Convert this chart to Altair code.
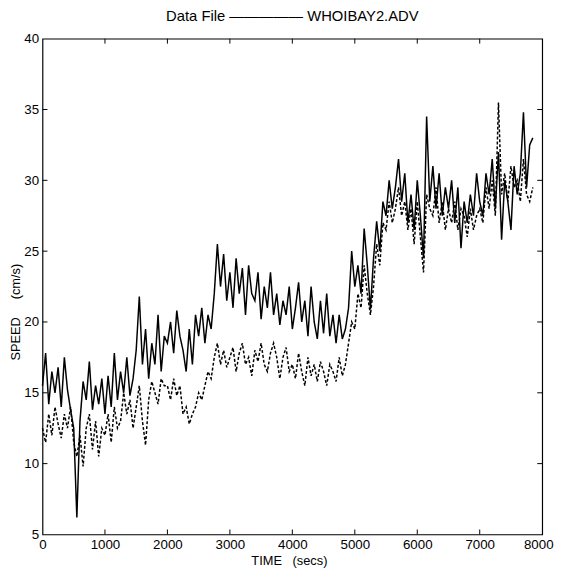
import altair as alt
import pandas as pd

# sample times (s), 50 s spacing, 0 .. 7850
times = list(range(0, 7900, 50))

# upper (solid) series, cm/s
solid = [
    15.5, 17.8, 14.2, 16.5, 15.0, 16.8, 14.0, 17.5, 15.2, 13.8, 12.5, 6.2, 13.0, 15.8, 14.5, 17.2, 13.8, 15.5, 14.2, 16.0,
    13.5, 16.2, 14.0, 17.8, 14.5, 16.5, 15.0, 17.5, 14.8, 16.0, 18.0, 21.8, 17.0, 19.5, 16.0, 18.5, 17.0, 20.5, 16.5, 19.0,
    18.5, 20.0, 17.8, 20.8, 19.0, 18.0, 16.5, 19.5, 17.0, 20.5, 19.0, 21.0, 18.5, 20.5, 19.5, 22.0, 25.5, 22.5, 24.8, 21.5,
    23.5, 21.0, 24.5, 22.0, 23.8, 20.5, 24.0, 22.0, 21.5, 23.5, 20.2, 22.5, 21.0, 23.5, 20.5, 22.0, 19.8, 21.5, 20.5, 22.5,
    19.5, 21.0, 22.8, 20.0, 21.5, 19.0, 22.5, 20.0, 18.8, 21.5, 19.2, 22.0, 19.0, 20.5, 18.5, 20.5, 18.8, 19.5, 21.0, 25.0,
    22.5, 24.0, 22.0, 26.6, 24.0, 20.9, 24.5, 27.1, 25.0, 28.5, 27.5, 30.0, 28.0, 29.5, 31.5, 28.5, 30.5, 27.0, 29.0, 26.5,
    30.0, 27.5, 24.5, 34.5, 28.5, 31.0, 28.0, 30.5, 27.5, 29.5, 28.0, 30.0, 27.0, 29.5, 25.2, 28.5, 27.0, 29.0, 27.5, 30.5,
    28.5, 27.5, 30.5, 29.0, 31.5, 28.0, 32.0, 25.8, 30.0, 28.5, 26.5, 31.0, 29.0, 30.5, 34.8, 29.5, 32.5, 33.0,
]

# lower (dashed) series, cm/s
dashed = [
    12.5, 11.5, 13.5, 12.0, 14.0, 12.8, 11.8, 13.5, 12.5, 14.0, 11.5, 10.5, 12.0, 9.8, 12.5, 13.5, 11.0, 13.0, 10.5, 12.5,
    12.0, 13.5, 11.5, 14.0, 12.5, 13.0, 15.0, 13.5, 14.5, 12.5, 14.0, 15.5, 13.0, 11.3, 14.5, 15.8, 15.0, 14.2, 16.0, 15.5,
    15.5, 14.5, 16.0, 14.8, 15.5, 13.5, 14.0, 12.8, 13.5, 14.0, 15.0, 14.5, 15.5, 16.5, 16.0, 17.5, 18.5, 17.0, 18.0, 16.8,
    17.5, 18.2, 16.5, 17.8, 18.5, 17.0, 17.5, 16.2, 18.0, 17.2, 18.5, 17.0, 16.5, 17.8, 18.5, 17.5, 16.0, 17.5, 18.2, 16.5,
    17.0, 16.0, 17.8, 16.5, 15.5, 17.5, 16.2, 17.0, 15.8, 17.2, 16.5, 15.5, 17.0, 16.5, 15.8, 17.5, 16.2, 17.0, 18.5, 20.0,
    19.5, 22.0, 21.0, 24.0, 22.0, 20.5, 22.5, 25.5, 24.0, 27.0, 26.5, 28.5, 27.0, 28.0, 29.5, 27.5, 28.5, 26.5, 28.0, 25.5,
    28.5, 26.0, 23.5, 29.0, 28.0, 27.5, 29.5, 27.0, 28.5, 26.5, 28.0, 27.0, 28.5, 26.5, 28.0, 27.5, 26.0, 28.0, 26.5, 27.5,
    28.0, 27.0, 29.5, 28.0, 30.0, 27.5, 35.5, 29.0, 30.5, 28.5, 31.0, 29.5, 30.0, 28.5, 31.5, 29.0, 28.5, 29.5,
]

x_ticks = [0, 1000, 2000, 3000, 4000, 5000, 6000, 7000, 8000]
y_ticks = [5, 10, 15, 20, 25, 30, 35, 40]

W, H = 507, 503
FONT = "Liberation Sans"

df = pd.DataFrame({"t": times, "solid": solid, "dashed": dashed})
xt = pd.DataFrame({"v": x_ticks[1:-1]})
yt = pd.DataFrame({"v": y_ticks[1:-1]})

xs = alt.Scale(domain=[0, 8000], nice=False, zero=False)
ys = alt.Scale(domain=[5, 40], nice=False, zero=False)

x_axis = alt.Axis(values=x_ticks, format="d", title="TIME\u00a0\u00a0\u00a0(secs)", ticks=False, domain=False,
                  grid=False, labelPadding=3, titleX=250, titleY=30, titleBaseline="alphabetic",
                  labelFontSize=13.5, titleFontSize=13, labelColor="black", titleColor="black",
                  titleFontWeight="normal", labelFlush=False,
                  labelOffset={"condition": {"test": "datum.value == 8000", "value": -4}, "value": 0})
y_axis = alt.Axis(values=y_ticks, format="d", title="SPEED\u00a0\u00a0\u00a0\u00a0\u00a0(cm/s)", ticks=False,
                  domain=False, grid=False, labelPadding=4, titleX=-27, titleY=277, titleBaseline="middle",
                  labelFontSize=13.5, titleFontSize=13, labelColor="black", titleColor="black",
                  titleFontWeight="normal", labelFlush=False)

base = alt.Chart(df)
dash_line = base.mark_line(color="black", strokeWidth=1.5, strokeDash=[3, 2]).encode(
    x=alt.X("t:Q", scale=xs, axis=x_axis),
    y=alt.Y("dashed:Q", scale=ys, axis=y_axis),
)
solid_line = base.mark_line(color="black", strokeWidth=1.5).encode(
    x=alt.X("t:Q", scale=xs),
    y=alt.Y("solid:Q", scale=ys),
)

tk = dict(color="black", strokeWidth=1)
xb = alt.Chart(xt).mark_rule(**tk).encode(x=alt.X("v:Q", scale=xs), y=alt.value(H), y2=alt.value(H - 5))
xtp = alt.Chart(xt).mark_rule(**tk).encode(x=alt.X("v:Q", scale=xs), y=alt.value(0), y2=alt.value(5))
yl = alt.Chart(yt).mark_rule(**tk).encode(y=alt.Y("v:Q", scale=ys), x=alt.value(0), x2=alt.value(5))
yr = alt.Chart(yt).mark_rule(**tk).encode(y=alt.Y("v:Q", scale=ys), x=alt.value(W), x2=alt.value(W - 5))

chart = alt.layer(dash_line, solid_line, xb, xtp, yl, yr).properties(
    width=W, height=H,
    title=alt.TitleParams("Data File \u2014\u2014\u2014\u2014\u2014  WHOIBAY2.ADV", fontSize=15,
                          font=FONT, fontWeight="normal", color="black", offset=8),
    autosize=alt.AutoSizeParams(type="none"),
    padding={"left": 35, "top": 27, "right": 13, "bottom": 36},
).configure(font=FONT).configure_view(stroke="black", strokeWidth=1.2).configure_axis(
    labelFont=FONT, titleFont=FONT
)

chart.save("out.html", embed_options={"renderer": "svg", "actions": False})
